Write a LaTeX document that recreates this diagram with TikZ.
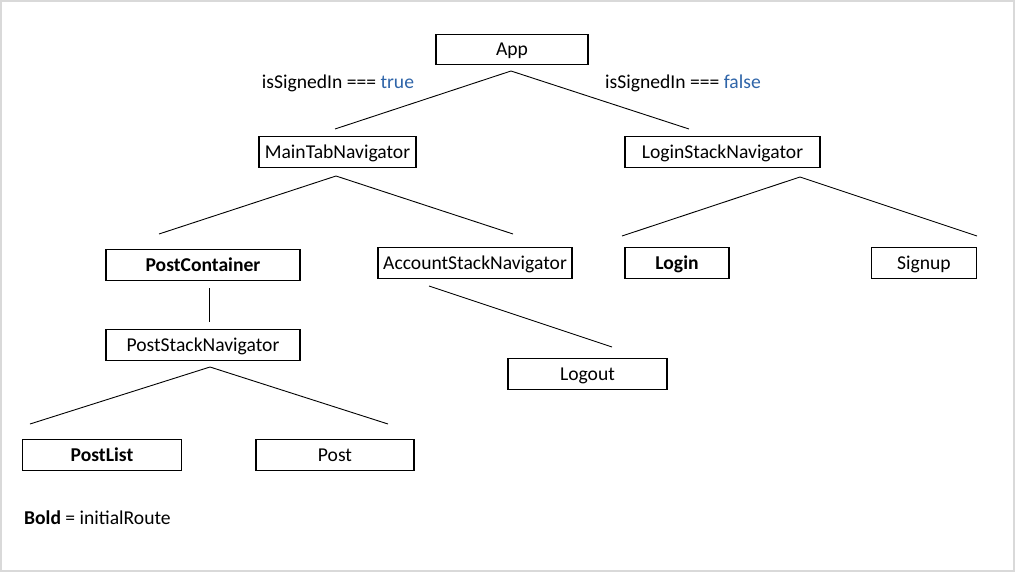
\documentclass[tikz,border=0pt]{standalone}
\usepackage{fontspec}
\setmainfont{Carlito}
\begin{document}
\begin{tikzpicture}[x=1pt,y=-1pt,
  routebox/.style={draw=black,line width=1.1pt,inner sep=0pt,minimum height=30.5pt,
    font=\fontsize{19.6}{21}\selectfont,text height=14pt,text depth=1pt},
  initial/.style={routebox,font=\fontsize{19.6}{21}\selectfont\bfseries},
  branch/.style={draw=black,line width=0.9pt},
  lbl/.style={inner sep=0pt,font=\fontsize{19.6}{21}\selectfont,text height=14pt,text depth=1pt}]
\definecolor{condblue}{HTML}{2E64A8}
\definecolor{framegray}{HTML}{D9D9D9}
\useasboundingbox (0,0) rectangle (1015,572);
\draw[framegray,line width=1.6pt] (0.8,0.8) rectangle (1014.2,571.2);

% navigators and screens
\node[routebox,minimum width=152pt] (app) at (512,49.5) {App};
\node[routebox,minimum width=157pt] (main) at (337.5,152) {MainTabNavigator};
\node[routebox,minimum width=195pt] (loginstack) at (722.5,152) {LoginStackNavigator};
\node[initial,minimum width=194pt] (postcont) at (203,265) {PostContainer};
\node[routebox,minimum width=194pt] (account) at (475,263) {AccountStackNavigator};
\node[initial,minimum width=104pt] (login) at (677,263) {Login};
\node[routebox,minimum width=105pt] (signup) at (924,263) {Signup};
\node[routebox,minimum width=194pt] (poststack) at (203,345) {PostStackNavigator};
\node[routebox,minimum width=159pt] (logout) at (587.5,374) {Logout};
\node[initial,minimum width=159pt] (postlist) at (102,455) {PostList};
\node[routebox,minimum width=158pt] (post) at (335,455) {Post};

% branch conditions and legend
\node[lbl] (condtrue) at (338,82) {isSignedIn === \textcolor{condblue}{true}};
\node[lbl] (condfalse) at (683,82) {isSignedIn === \textcolor{condblue}{false}};
\node[lbl,anchor=west] (legend) at (24,518) {\textbf{Bold} = initialRoute};

% free-floating branch lines
\coordinate (appTip) at (511,71);
\coordinate (mainEnd) at (335,129);
\coordinate (loginEnd) at (689,129);
\coordinate (mainTip) at (336,176);
\coordinate (postcontEnd) at (159,234);
\coordinate (accountEnd) at (513,234);
\coordinate (loginstackTip) at (800,177);
\coordinate (loginScrEnd) at (622,236);
\coordinate (signupEnd) at (977,236);
\coordinate (postcontTail) at (209,288);
\coordinate (poststackHead) at (209,322);
\coordinate (accountTail) at (429,286);
\coordinate (logoutHead) at (612,347);
\coordinate (poststackTip) at (210,367);
\coordinate (postlistEnd) at (30,424);
\coordinate (postEnd) at (388,424);

\draw[branch] (mainEnd) -- (appTip) -- (loginEnd);
\draw[branch] (postcontEnd) -- (mainTip) -- (accountEnd);
\draw[branch] (loginScrEnd) -- (loginstackTip) -- (signupEnd);
\draw[branch] (postcontTail) -- (poststackHead);
\draw[branch] (accountTail) -- (logoutHead);
\draw[branch] (postlistEnd) -- (poststackTip) -- (postEnd);
\end{tikzpicture}
\end{document}
